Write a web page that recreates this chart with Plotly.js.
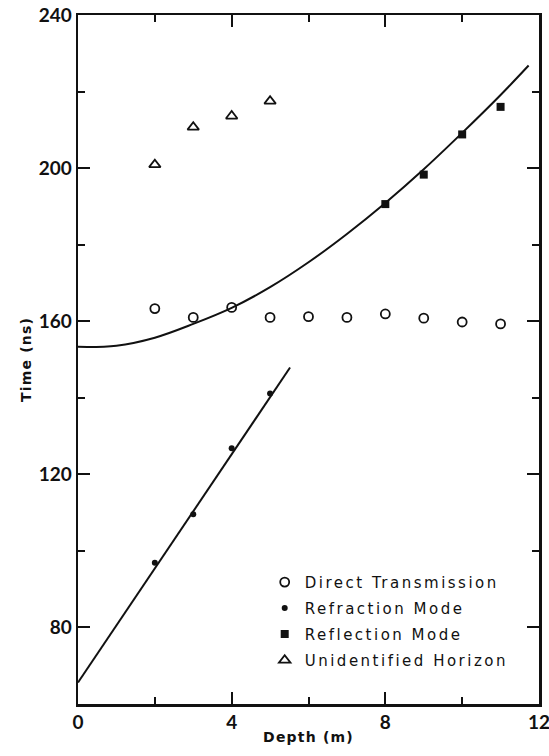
<!DOCTYPE html>
<html>
<head>
<meta charset="utf-8">
<script src="https://cdn.plot.ly/plotly-3.0.1.min.js"></script>
<style>
html, body { margin: 0; padding: 0; background: #fff; }
#chart { width: 549px; height: 756px; }
.legendtext { letter-spacing: 2.5px; }
.xtitle, .ytitle { letter-spacing: 1.2px; }
.xtick text, .ytick text { font-variant-numeric: proportional-nums; }
</style>
</head>
<body>
<div id="chart"></div>
<script>
// Data
var directX = [2, 3, 4, 5, 6, 7, 8, 9, 10, 11];
var directT = [163.3, 161.0, 163.6, 161.0, 161.2, 161.0, 161.9, 160.8, 159.8, 159.3];

var refractionX = [2, 3, 4, 5];
var refractionT = [96.9, 109.6, 126.8, 141.1];

var reflectionX = [8, 9, 10, 11];
var reflectionT = [190.6, 198.3, 208.8, 216.0];

var horizonX = [2, 3, 4, 5];
var horizonT = [200.9, 210.7, 213.6, 217.5];

// Fitted lines as traced on the figure
var refrLineX = [0, 5.52];
var refrLineT = [65.6, 147.9];

var reflCurveX = [0, 1, 2, 3, 4, 5, 6, 7, 8, 9, 10, 11, 11.73];
var reflCurveT = [153.3, 153.6, 155.7, 159.3, 163.5, 168.9, 175.4, 182.8, 190.9, 199.7, 209.2, 219.1, 226.8];

var xTicks = [0, 4, 8, 12];
var yTicks = [80, 120, 160, 200, 240];

var ink = '#111';
var traces = [
  {x: reflCurveX, y: reflCurveT, mode: 'lines', line: {color: ink, width: 2, shape: 'spline'}, showlegend: false, hoverinfo: 'skip'},
  {x: refrLineX, y: refrLineT, mode: 'lines', line: {color: ink, width: 2}, showlegend: false, hoverinfo: 'skip'},
  {x: directX, y: directT, mode: 'markers', name: 'Direct Transmission', legendgroup: 'a',
   marker: {symbol: 'circle-open', size: 9, color: ink, line: {width: 1.8, color: ink}}},
  {x: refractionX, y: refractionT, mode: 'markers', name: 'Refraction Mode', legendgroup: 'b',
   marker: {symbol: 'circle', size: 6, color: ink}},
  {x: reflectionX, y: reflectionT, mode: 'markers', name: 'Reflection Mode', legendgroup: 'c',
   marker: {symbol: 'square', size: 8, color: ink}},
  {x: horizonX, y: horizonT, mode: 'markers', name: 'Unidentified Horizon', legendgroup: 'd',
   marker: {symbol: 'triangle-up-open', size: 10, color: ink, line: {width: 1.8, color: ink}}}
];

var fontFam = 'DejaVu Sans, sans-serif';
var tickFam = 'Lato, DejaVu Sans, sans-serif';
var layout = {
  width: 549, height: 756,
  margin: {l: 78, r: 10, t: 15, b: 52},
  paper_bgcolor: '#fff', plot_bgcolor: '#fff',
  showlegend: true,
  legend: {x: 0.405, xanchor: 'left', y: 0.2005, yanchor: 'top', bgcolor: 'rgba(0,0,0,0)',
           traceorder: 'grouped', tracegroupgap: 3.5,
           font: {family: fontFam, size: 15, color: ink}},
  xaxis: {
    range: [0, 12], tickvals: xTicks, ticktext: xTicks.map(String),
    ticklabeloverflow: 'allow',
    showgrid: false, zeroline: false, showline: true, linecolor: ink, linewidth: 2.5,
    mirror: 'ticks', ticks: 'inside', ticklen: 12, tickwidth: 2, tickcolor: ink,
    minor: {dtick: 2, ticks: 'inside', ticklen: 7, tickwidth: 2, tickcolor: ink, showgrid: false},
    tickfont: {family: tickFam, size: 19, color: ink, weight: 'bold'},
    title: {text: 'Depth (m)', font: {family: fontFam, size: 14, color: ink, weight: 'bold'}, standoff: 0}
  },
  yaxis: {
    range: [60, 240], tickvals: yTicks, ticktext: yTicks.map(String),
    ticklabeloverflow: 'allow',
    showgrid: false, zeroline: false, showline: true, linecolor: ink, linewidth: 2.5,
    mirror: 'ticks', ticks: 'inside', ticklen: 12, tickwidth: 2, tickcolor: ink,
    minor: {tick0: 0, dtick: 20, ticks: 'inside', ticklen: 7, tickwidth: 2, tickcolor: ink, showgrid: false},
    tickfont: {family: tickFam, size: 19, color: ink, weight: 'bold'},
    title: {text: 'Time (ns)', font: {family: fontFam, size: 14, color: ink, weight: 'bold'}, standoff: 4}
  }
};

Plotly.newPlot('chart', traces, layout, {displayModeBar: false, staticPlot: true});
</script>
</body>
</html>
